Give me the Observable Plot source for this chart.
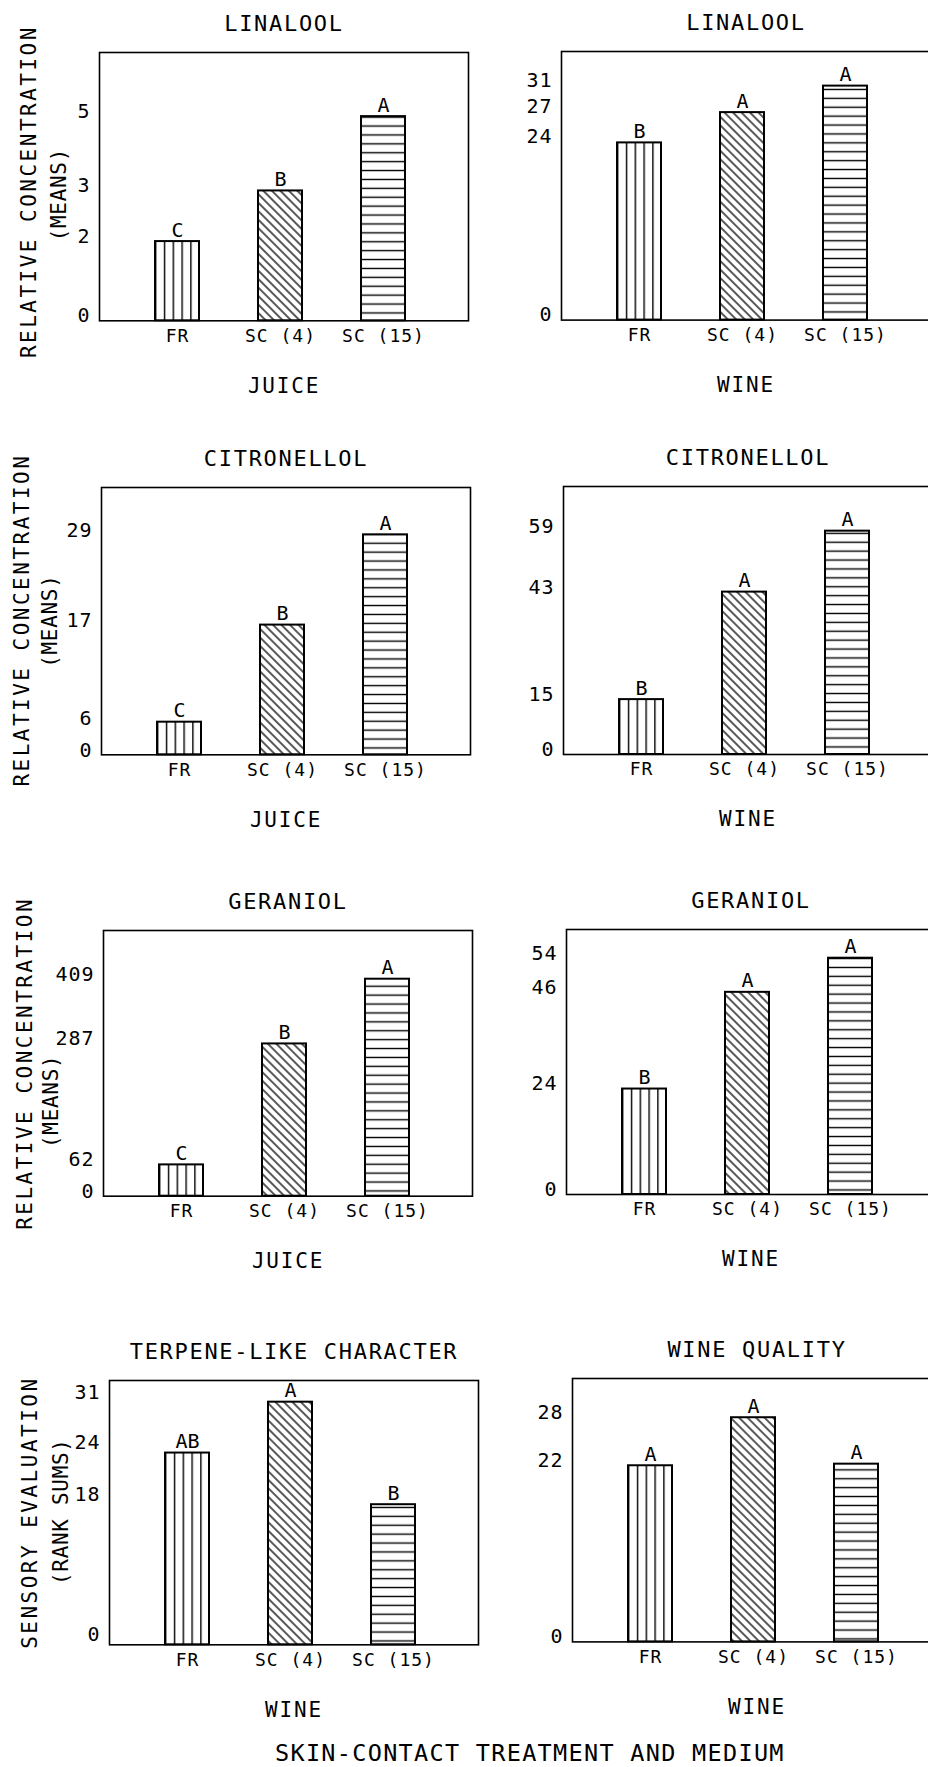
<!DOCTYPE html>
<html>
<head>
<meta charset="utf-8">
<script src="https://cdn.jsdelivr.net/npm/d3@7"></script>
<script src="https://cdn.jsdelivr.net/npm/@observablehq/plot@0.6"></script>
<style>
  html, body { margin: 0; padding: 0; background: #fff; overflow: hidden; }
  #page { position: relative; width: 928px; height: 1767px; overflow: hidden; background: #fff; color: #000; font-family: "DejaVu Sans Mono", monospace; }
  #page svg.panel { position: absolute; }
  text.ls-title { letter-spacing: 1.7px; }
  text.ls-medium { letter-spacing: 1.8px; }
  text.ls-ylabel { letter-spacing: 2.5px; }
  text.ls-ysub { letter-spacing: 0.7px; }
  g[aria-label="x-axis tick label"] text { letter-spacing: 1px; }
  g[aria-label="y-axis tick label"] text { letter-spacing: 1px; }
  #caption { position: absolute; left: 275px; top: 1741px; font-size: 23.5px; line-height: 24px; letter-spacing: 1.3px; white-space: nowrap; }
</style>
</head>
<body>
<svg width="0" height="0" style="position:absolute">
  <defs>
    <pattern id="hatch-vertical" patternUnits="objectBoundingBox" x="0" y="0" width="0.2" height="1">
      <line x1="0" y1="0" x2="0" y2="3000" stroke="#000" stroke-width="2.8"></line>
    </pattern>
    <pattern id="hatch-diagonal" patternUnits="userSpaceOnUse" width="6" height="10" patternTransform="rotate(-45)">
      <line x1="3" y1="-1" x2="3" y2="11" stroke="#000" stroke-width="1.3"></line>
    </pattern>
    <pattern id="hatch-horizontal" patternUnits="userSpaceOnUse" width="10" height="8.9">
      <line x1="-1" y1="4.45" x2="11" y2="4.45" stroke="#000" stroke-width="1.4"></line>
    </pattern>
  </defs>
</svg>
<div id="page"><div id="caption">SKIN-CONTACT TREATMENT AND MEDIUM</div></div>
<script>
// ---------- data ----------
const treatments = ["FR", "SC (4)", "SC (15)"];
const hatches = ["url(#hatch-vertical)", "url(#hatch-diagonal)", "url(#hatch-horizontal)"];

const juiceLinalool    = [1.94, 3.18, 5.0];
const wineLinalool     = [23.4, 27.4, 30.9];
const juiceCitronellol = [4.3, 17.1, 29.0];
const wineCitronellol  = [14.5, 42.9, 59.0];
const juiceGeraniol    = [59, 287, 409];
const wineGeraniol     = [24.1, 46.2, 54.0];
const terpeneLike      = [24.5, 31.0, 17.9];
const wineQuality      = [22.0, 28.0, 22.2];

const juiceLinaloolLetters    = ["C", "B", "A"];
const wineLinaloolLetters     = ["B", "A", "A"];
const juiceCitronellolLetters = ["C", "B", "A"];
const wineCitronellolLetters  = ["B", "A", "A"];
const juiceGeraniolLetters    = ["C", "B", "A"];
const wineGeraniolLetters     = ["B", "A", "A"];
const terpeneLikeLetters      = ["AB", "A", "B"];
const wineQualityLetters      = ["A", "A", "A"];

const juiceLinaloolTicks    = ["2", "3", "5"];
const wineLinaloolTicks     = ["24", "27", "31"];
const juiceCitronellolTicks = ["6", "17", "29"];
const wineCitronellolTicks  = ["15", "43", "59"];
const juiceGeraniolTicks    = ["62", "287", "409"];
const wineGeraniolTicks     = ["24", "46", "54"];
const terpeneLikeTicks      = ["24", "31", "18"];
const wineQualityTicks      = ["22", "28", null];

// ---------- layout ----------
const FONT = "DejaVu Sans Mono, monospace";
const ML = 110, MR = 12, MT = 55, MB = 85, FRAME_W = 369;
const CONC = ["RELATIVE CONCENTRATION", "(MEANS)"];
const SENS = ["SENSORY EVALUATION", "(RANK SUMS)"];

const panels = [
  {title: "LINALOOL", medium: "JUICE", values: juiceLinalool, letters: juiceLinaloolLetters, ticks: juiceLinaloolTicks,
   yMax: 6.57, left: 99.3, top: 51.7, h: 268.3, tickDy: -5, yLabel: CONC, lab: [-70, 5, -40, 8]},
  {title: "LINALOOL", medium: "WINE", values: wineLinalool, letters: wineLinaloolLetters, ticks: wineLinaloolTicks,
   yMax: 35.47, left: 561.3, top: 50.7, h: 268.6, tickDy: -6},
  {title: "CITRONELLOL", medium: "JUICE", values: juiceCitronellol, letters: juiceCitronellolLetters, ticks: juiceCitronellolTicks,
   yMax: 35.24, left: 100.7, top: 486.7, h: 267.3, tickDy: -4, yLabel: CONC, lab: [-79, -1, -51, 0]},
  {title: "CITRONELLOL", medium: "WINE", values: wineCitronellol, letters: wineCitronellolLetters, ticks: wineCitronellolTicks,
   yMax: 70.8, left: 562.7, top: 486, h: 268, tickDy: -5},
  {title: "GERANIOL", medium: "JUICE", values: juiceGeraniol, letters: juiceGeraniolLetters, ticks: juiceGeraniolTicks,
   yMax: 500.8, left: 103.3, top: 930, h: 265.7, tickDy: -5, yLabel: CONC, lab: [-78, 0, -52, 38]},
  {title: "GERANIOL", medium: "WINE", values: wineGeraniol, letters: wineGeraniolLetters, ticks: wineGeraniolTicks,
   yMax: 60.56, left: 565.7, top: 929, h: 265, tickDy: -5},
  {title: "TERPENE-LIKE CHARACTER", medium: "WINE", values: terpeneLike, letters: terpeneLikeLetters, ticks: terpeneLikeTicks,
   yMax: 33.77, left: 109.3, top: 1380, h: 264.3, tickDy: -10, yLabel: SENS, lab: [-79, 0, -48.5, -1]},
  {title: "WINE QUALITY", medium: "WINE", values: wineQuality, letters: wineQualityLetters, ticks: wineQualityTicks,
   yMax: 32.9, left: 572.3, top: 1378.3, h: 263.4, tickDy: -5}
];

const page = document.getElementById("page");

for (const p of panels) {
  const rows = treatments.map((t, i) => ({treatment: t, value: p.values[i], letter: p.letters[i], pattern: hatches[i]}));
  const tickMap = new Map([[0, "0"]]);
  p.values.forEach((v, i) => { if (p.ticks[i] != null) tickMap.set(v, p.ticks[i]); });
  const tickValues = Array.from(tickMap.keys());

  const marks = [
    Plot.barY(rows, {x: "treatment", y: "value", fill: "pattern", stroke: "#000", strokeWidth: 2}),
    Plot.frame({stroke: "#000", strokeWidth: 1.6}),
    Plot.axisX({tickSize: 0, tickPadding: 8, fontSize: 18, label: null}),
    Plot.axisY({ticks: tickValues, tickFormat: d => tickMap.get(d), tickSize: 0, tickPadding: 9,
                fontSize: 20, dy: p.tickDy, label: null}),
    Plot.text(rows, {x: "treatment", y: "value", text: "letter", lineAnchor: "bottom", dy: -5, fontSize: 20}),
    Plot.text([p.title], {text: d => d, frameAnchor: "top", dy: -29, textAnchor: "middle", lineAnchor: "middle", fontSize: 22}),
    Plot.text([p.medium], {text: d => d, frameAnchor: "bottom", dy: 65, textAnchor: "middle", lineAnchor: "middle", fontSize: 21})
  ];
  if (p.yLabel) {
    marks.push(
      Plot.text([p.yLabel[0]], {text: d => d, frameAnchor: "left", rotate: -90, dx: p.lab[0], dy: p.lab[1],
                                textAnchor: "middle", lineAnchor: "middle", fontSize: 21}),
      Plot.text([p.yLabel[1]], {text: d => d, frameAnchor: "left", rotate: -90, dx: p.lab[2], dy: p.lab[3],
                                textAnchor: "middle", lineAnchor: "middle", fontSize: 21})
    );
  }

  const svg = Plot.plot({
    width: ML + FRAME_W + MR,
    height: MT + p.h + MB,
    marginLeft: ML, marginRight: MR, marginTop: MT, marginBottom: MB,
    style: {fontFamily: FONT, fontSize: "20px", background: "transparent", overflow: "visible", color: "#000"},
    x: {domain: treatments, paddingInner: 0.569, paddingOuter: 0.572, align: 0.471, label: null},
    y: {domain: [0, p.yMax], label: null},
    color: {type: "identity"},
    marks
  });
  svg.classList.add("panel");
  svg.style.left = (p.left - ML) + "px";
  svg.style.top = (p.top - MT) + "px";

  // letter spacing to mimic the wide plotter lettering
  const cls = new Map([[p.title, "ls-title"], [p.medium, "ls-medium"]]);
  if (p.yLabel) { cls.set(p.yLabel[0], "ls-ylabel"); cls.set(p.yLabel[1], "ls-ysub"); }
  svg.querySelectorAll("text").forEach(t => {
    const c = cls.get(t.textContent);
    if (c) t.classList.add(c);
  });
  page.appendChild(svg);
}
</script>
</body>
</html>
